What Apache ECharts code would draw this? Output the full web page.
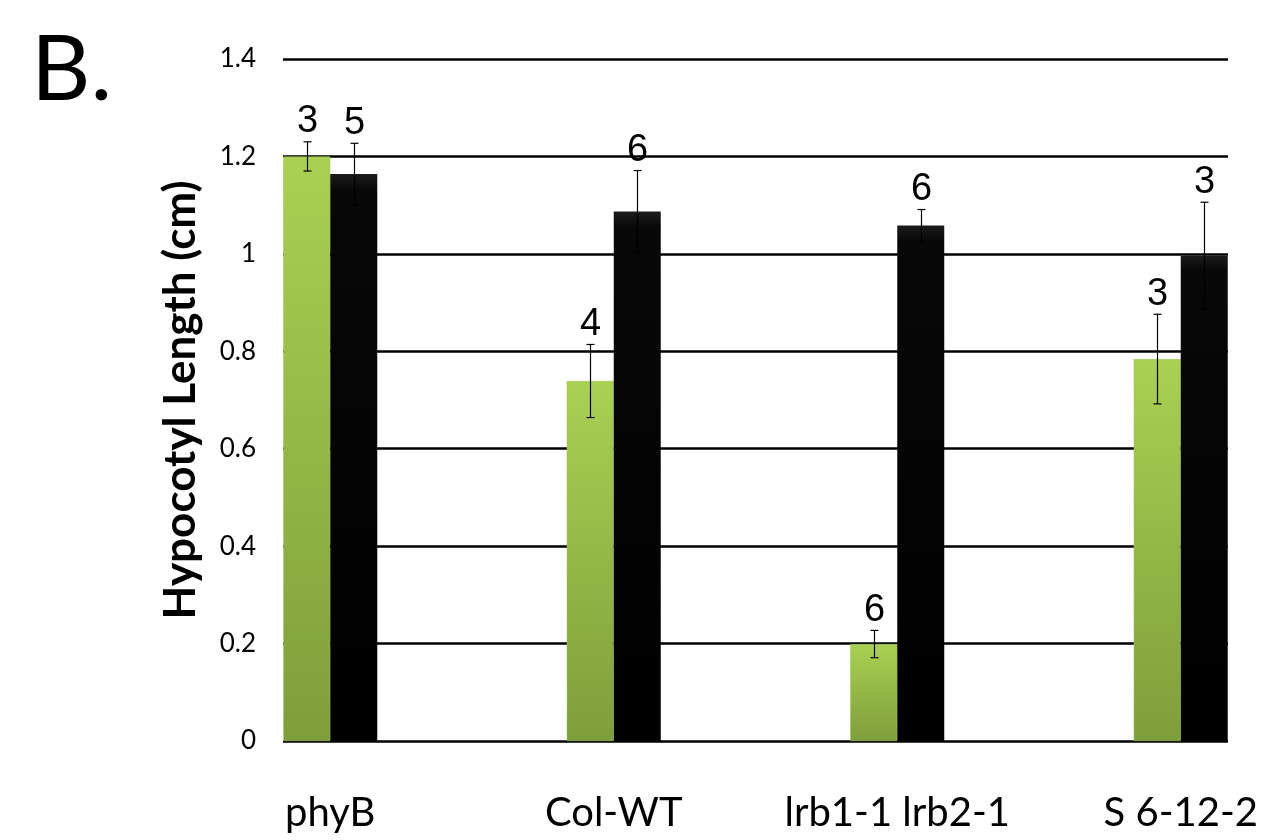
<!DOCTYPE html>
<html>
<head>
<meta charset="utf-8">
<script src="https://cdn.jsdelivr.net/npm/echarts@6/dist/echarts.min.js"></script>
<style>
html,body{margin:0;padding:0;background:#fff;}
#chart{width:1264px;height:840px;}
</style>
</head>
<body>
<div id="chart"></div>
<script>
// ---- data ----
const categories = ['phyB', 'Col-WT', 'lrb1-1 lrb2-1', 'S 6-12-2'];
const greenMeans = [1.200, 0.739, 0.199, 0.784];
const greenErrors = [0.030, 0.075, 0.028, 0.092];
const greenCounts = [3, 4, 6, 3];
const blackMeans = [1.164, 1.087, 1.058, 0.996];
const blackErrors = [0.063, 0.084, 0.033, 0.110];
const blackCounts = [5, 6, 6, 3];
const yTicks = [0, 0.2, 0.4, 0.6, 0.8, 1, 1.2, 1.4];

// ---- chart ----
const BAR_W = 47;
const chart = echarts.init(document.getElementById('chart'), null, {renderer: 'canvas'});

const errData = [];
categories.forEach((c, i) => {
  errData.push([i, 0, greenMeans[i], greenErrors[i], greenCounts[i]]);
  errData.push([i, 1, blackMeans[i], blackErrors[i], blackCounts[i]]);
});

const greenGrad = new echarts.graphic.LinearGradient(0, 0, 0, 1, [
  {offset: 0, color: '#a9d152'},
  {offset: 1, color: '#7e9e3b'}
]);
const blackGrad = new echarts.graphic.LinearGradient(0, 0, 0, 1, [
  {offset: 0, color: '#1c1c1c'},
  {offset: 0.03, color: '#080808'},
  {offset: 1, color: '#000000'}
]);

const option = {
  animation: false,
  backgroundColor: '#ffffff',
  graphic: [
    {type: 'text', left: 31, top: 24, style: {text: 'B.', font: '92px Lato', fill: '#000'}}
  ],
  grid: {left: 283, right: 36, top: 59, bottom: 99, containLabel: false},
  xAxis: {
    type: 'value',
    min: -0.1667,
    max: 3.1667,
    splitLine: {show: false},
    axisLine: {show: false},
    axisTick: {show: false},
    axisLabel: {
      customValues: [0, 1, 2, 3],
      formatter: v => categories[Math.round(v)],
      margin: 52,
      fontFamily: 'Lato',
      fontSize: 40,
      color: '#000'
    }
  },
  yAxis: {
    type: 'value',
    min: 0,
    max: 1.4,
    interval: 0.2,
    name: 'Hypocotyl Length (cm)',
    nameLocation: 'middle',
    nameGap: 80,
    nameRotate: 90,
    nameTextStyle: {fontFamily: 'Lato', fontWeight: 'bold', fontSize: 44, color: '#000'},
    axisLine: {show: false},
    axisTick: {show: false},
    splitLine: {lineStyle: {color: '#000', width: 2.5}},
    axisLabel: {
      formatter: v => String(Math.round(v * 10) / 10),
      margin: 27,
      fontFamily: 'Lato',
      fontSize: 26,
      color: '#000'
    }
  },
  series: [
    {
      type: 'bar',
      barWidth: BAR_W,
      barGap: '0%',
      data: greenMeans.map((v, i) => [i, v]),
      itemStyle: {color: greenGrad, borderColor: '#9cc24c', borderWidth: 0.5},
      z: 2
    },
    {
      type: 'bar',
      barWidth: BAR_W,
      barGap: '0%',
      data: blackMeans.map((v, i) => [i, v]),
      itemStyle: {color: blackGrad},
      z: 2
    },
    {
      type: 'custom',
      data: errData,
      encode: {x: 0, y: 2},
      clip: false,
      z: 5,
      renderItem: function (params, api) {
        const cat = api.value(0), s = api.value(1), m = api.value(2), e = api.value(3), n = api.value(4);
        const off = s === 0 ? -BAR_W / 2 : BAR_W / 2;
        const top = api.coord([cat, m + e]);
        const bot = api.coord([cat, m - e]);
        const x = Math.round(top[0] + off) + 0.5;
        const cap = 4;
        const st = {stroke: '#000', lineWidth: 1.2};
        return {
          type: 'group',
          children: [
            {type: 'line', shape: {x1: x, y1: top[1], x2: x, y2: bot[1]}, style: st},
            {type: 'line', shape: {x1: x - cap, y1: top[1], x2: x + cap, y2: top[1]}, style: st},
            {type: 'line', shape: {x1: x - cap, y1: bot[1], x2: x + cap, y2: bot[1]}, style: st},
            {type: 'text', x: x, y: top[1] - 1,
              style: {text: String(n), font: '38px "Liberation Sans"', fill: '#000', align: 'center', verticalAlign: 'bottom'}}
          ]
        };
      }
    }
  ]
};
chart.setOption(option);
</script>
</body>
</html>
